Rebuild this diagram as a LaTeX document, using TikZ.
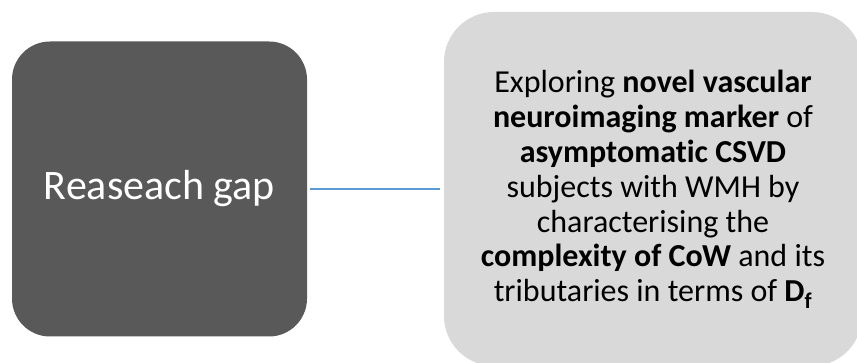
\documentclass[tikz,border=0pt]{standalone}
\usepackage{fontspec}
\setmainfont{Carlito}[Ligatures=NoCommon]
\definecolor{darkbox}{HTML}{595959}
\definecolor{lightbox}{HTML}{D9D9D9}
\definecolor{linkblue}{HTML}{5B9BD5}
\begin{document}
\begin{tikzpicture}[x=1pt,y=-1pt,
  darkstyle/.style={rectangle, rounded corners=38pt, fill=darkbox, text=white,
    minimum width=295pt, minimum height=295pt, inner sep=0pt,
    font=\fontsize{42}{48}\selectfont},
  lightstyle/.style={rectangle, rounded corners=50pt, fill=lightbox, text=black,
    minimum width=418pt, minimum height=354pt, inner sep=0pt},
  textstyle/.style={align=center, font=\fontsize{32}{34.8}\selectfont},
  linkstyle/.style={draw=linkblue, line width=2pt, shorten <=3pt, shorten >=4pt}]
\useasboundingbox (0,0) rectangle (857,363);
\clip (0,0) rectangle (857,363);
\node[darkstyle] (gap) at (159.5,189) {\raisebox{-1.5pt}{Reaseach gap}};
\node[lightstyle] (aim) at (653,189) {};
\node[textstyle] (aimtext) at (653,189.5)
  {Exploring \textbf{novel vascular}\\
   \textbf{neuroimaging marker} of\\
   \textbf{asymptomatic CSVD}\\
   subjects with WMH by\\
   characterising the\\
   \textbf{complexity of CoW} and its\\
   tributaries in terms of \textbf{D\textsubscript{f}}};
\draw[linkstyle] (gap) -- (aim);
\end{tikzpicture}
\end{document}
